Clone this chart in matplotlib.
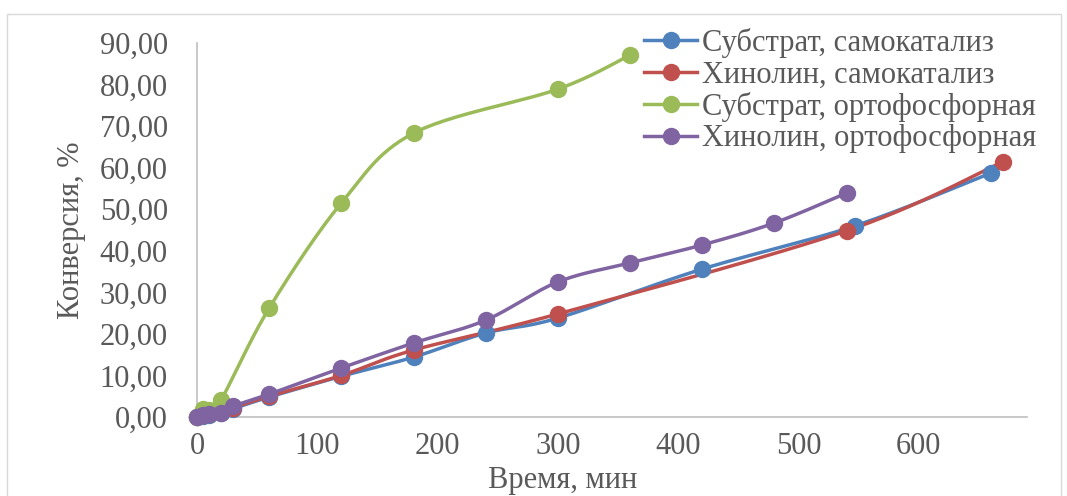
import numpy as np
import matplotlib
matplotlib.use("Agg")
import matplotlib.pyplot as plt
from matplotlib.lines import Line2D
from matplotlib.patches import Rectangle

# ---- data ----
t_sub_self = [0, 5, 10, 20, 30, 60, 120, 180, 240, 300, 420, 547, 660]
y_sub_self = [0, 0.3, 0.6, 1.0, 2.0, 4.8, 9.8, 14.4, 20.2, 23.8, 35.6, 46.0, 58.7]

t_quin_self = [0, 5, 10, 20, 30, 60, 120, 180, 300, 540, 670]
y_quin_self = [0, 0.4, 0.8, 1.2, 2.2, 5.0, 10.0, 16.1, 24.8, 44.8, 61.4]

t_sub_phos = [0, 5, 10, 20, 60, 120, 180, 300, 360]
y_sub_phos = [0, 2.0, 1.8, 4.1, 26.2, 51.5, 68.3, 78.9, 87.1]

t_quin_phos = [0, 5, 10, 20, 30, 60, 120, 180, 240, 300, 360, 420, 480, 540]
y_quin_phos = [0, 0.4, 0.8, 1.0, 2.6, 5.5, 11.8, 17.8, 23.3, 32.5, 37.1, 41.4, 46.7, 53.9]

labels = ["Субстрат, самокатализ", "Хинолин, самокатализ",
          "Субстрат, ортофосфорная", "Хинолин, ортофосфорная"]
x_ticks = [0, 100, 200, 300, 400, 500, 600]
y_ticks = [0, 10, 20, 30, 40, 50, 60, 70, 80, 90]
x_label = "Время, мин"
y_label = "Конверсия, %"

colors = ["#4F81BD", "#C0504D", "#9BBB59", "#8064A2"]

plt.rcParams['font.family'] = ['Liberation Serif', 'DejaVu Serif']
TXT = "#595959"
FS = 22


def smooth(x, y, n=30):
    """Excel-like smoothed line: Catmull-Rom Bezier segments."""
    p = np.column_stack([x, y]).astype(float)
    if len(p) < 3:
        return p[:, 0], p[:, 1]
    out = []
    for i in range(len(p) - 1):
        p0 = p[i - 1] if i > 0 else p[i]
        p1 = p[i]
        p2 = p[i + 1]
        p3 = p[i + 2] if i + 2 < len(p) else p[i + 1]
        c1 = p1 + (p2 - p0) / 6.0
        c2 = p2 - (p3 - p1) / 6.0
        s = np.linspace(0, 1, n)[:, None]
        seg = ((1 - s) ** 3) * p1 + 3 * ((1 - s) ** 2) * s * c1 + 3 * (1 - s) * s ** 2 * c2 + s ** 3 * p2
        out.append(seg if i == 0 else seg[1:])
    out = np.vstack(out)
    return out[:, 0], out[:, 1]


fig = plt.figure(figsize=(10.67, 4.96), dpi=100)
ax = fig.add_axes([197 / 1067, 1 - 417 / 496, (1027 - 197) / 1067, (417 - 43) / 496])

LW = 2.5
MS = 11.5
series = [(t_sub_self, y_sub_self), (t_quin_self, y_quin_self),
          (t_sub_phos, y_sub_phos), (t_quin_phos, y_quin_phos)]
handles = []
for (tx, ty), c, lab in zip(series, colors, labels):
    sx, sy = smooth(tx, ty)
    ax.plot(sx, sy, color=c, lw=LW, solid_capstyle='round', zorder=3)
    ax.plot(tx, ty, 'o', color=c, ms=MS, mec=c, zorder=4, clip_on=False)
    handles.append(Line2D([0], [0], color=c, lw=LW, marker='o', ms=MS))

ax.set_xlim(0, 690)
ax.set_ylim(0, 90)
ax.set_xticks(x_ticks)
ax.set_yticks(y_ticks)
ax.set_yticklabels([f"{v:.2f}".replace('.', ',') for v in y_ticks])
ax.tick_params(length=0, labelsize=FS, labelcolor=TXT)
ax.tick_params(axis='y', pad=21)
ax.tick_params(axis='x', pad=11)
for s in ['top', 'right']:
    ax.spines[s].set_visible(False)
for s in ['left', 'bottom']:
    ax.spines[s].set_color('#BFBFBF')
    ax.spines[s].set_linewidth(1.2)

fig.text(563 / 1067, 1 - 495 / 496, x_label, ha='center', va='bottom', fontsize=FS, color=TXT)
fig.text(72 / 1067, 1 - 230 / 496, y_label, ha='center', va='center', fontsize=FS, color=TXT, rotation=90)

leg = fig.legend(handles, labels, loc='upper left', bbox_to_anchor=(644 / 1067, 1 - 28 / 496),
                 frameon=False, fontsize=FS, handlelength=1.75, handletextpad=0.15,
                 labelspacing=0.08, borderaxespad=0, borderpad=0)
for t in leg.get_texts():
    t.set_color(TXT)

fig.patches.append(Rectangle((7 / 1067, -0.1), (1061 - 7) / 1067, 1.1 - 14 / 496,
                             transform=fig.transFigure, fill=False, ec='#D9D9D9', lw=1.0))

fig.savefig("out.png", dpi=100)
